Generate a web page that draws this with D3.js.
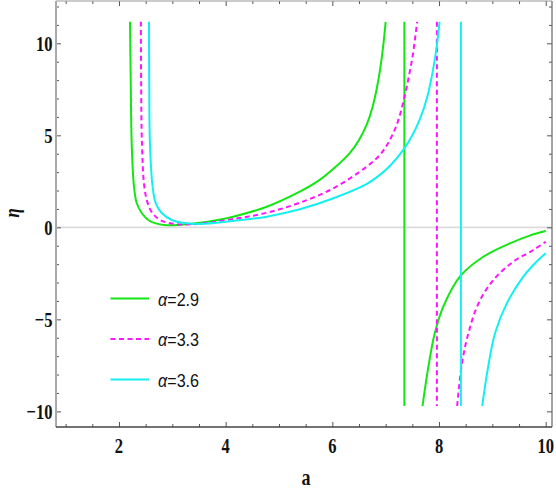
<!DOCTYPE html>
<html>
<head>
<meta charset="utf-8">
<script src="https://cdn.jsdelivr.net/npm/d3@7"></script>
<style>
  body { margin: 0; background: #fff; }
  svg { display: block; }
</style>
</head>
<body>
<svg id="chart" width="556" height="491"></svg>
<script>
// values: [a, eta]
const alphaValues = ['2.9', '3.3', '3.6'];

const green29Upper = [
  [2.206, 11.17], [2.22, 8.0], [2.238, 4.57], [2.281, 2.21], [2.332, 1.32], [2.426, 0.78],
  [2.549, 0.40], [2.707, 0.20], [2.9, 0.12], [3.1, 0.13], [3.52, 0.25], [4.14, 0.58],
  [4.77, 1.12], [5.39, 1.94], [5.75, 2.55], [6.02, 3.18], [6.33, 4.05], [6.5, 4.75],
  [6.64, 5.55], [6.75, 6.5], [6.85, 7.8], [6.93, 9.3], [7.0, 11.17],
];
const green29Lower = [
  [7.69, -9.71], [7.79, -7.76], [7.92, -5.76], [8.08, -4.31], [8.39, -2.68],
  [8.83, -1.60], [9.33, -0.87], [9.7, -0.45], [10.0, -0.20],
];

const magenta33Upper = [
  [2.41, 11.17], [2.415, 8.0], [2.43, 4.57], [2.475, 2.21], [2.54, 1.30], [2.63, 0.76],
  [2.77, 0.40], [2.96, 0.22], [3.2, 0.16], [3.52, 0.20], [4.14, 0.45], [4.77, 0.79],
  [5.39, 1.34], [6.02, 2.12], [6.64, 3.29], [6.89, 3.93], [7.05, 4.6], [7.21, 5.6],
  [7.33, 6.8], [7.42, 8.0], [7.51, 9.4], [7.59, 11.17],
];
const magenta33Lower = [
  [8.34, -9.71], [8.43, -7.39], [8.55, -5.76], [8.74, -4.13], [9.02, -2.86],
  [9.39, -1.87], [9.77, -1.23], [10.0, -0.78],
];

const cyan36Upper = [
  [2.5625, 11.17], [2.567, 8.0], [2.58, 4.57], [2.63, 2.21], [2.69, 1.30], [2.80, 0.78],
  [2.99, 0.40], [3.2, 0.25], [3.52, 0.18], [4.14, 0.35], [4.77, 0.58], [5.39, 0.98],
  [6.02, 1.58], [6.64, 2.35], [6.89, 2.85], [7.1, 3.4], [7.34, 4.25], [7.5, 5.0],
  [7.65, 5.95], [7.78, 7.1], [7.89, 8.6], [7.96, 9.9], [8.01, 11.17],
];
const cyan36Lower = [
  [8.81, -9.71], [8.91, -7.76], [9.05, -5.76], [9.27, -4.13], [9.58, -2.68],
  [9.8, -1.95], [10.0, -1.41],
];

// vertical jump lines and their extent
const asymptotes = [7.35, 7.96, 8.41];
const etaSpan = [-9.71, 11.17];

const xMajorTicks = [2, 4, 6, 8, 10];
const xTickLabels = ['2', '4', '6', '8', '10'];
const yMajorTicks = [-10, -5, 0, 5, 10];
const yTickLabels = ['\u221210', '\u22125', '0', '5', '10'];

const series = [
  { color: '#14e614', dash: null, upper: green29Upper, lower: green29Lower, asym: asymptotes[0] },
  { color: '#ff14ff', dash: '5,3.5', upper: magenta33Upper, lower: magenta33Lower, asym: asymptotes[1] },
  { color: '#14f0f0', dash: null, upper: cyan36Upper, lower: cyan36Lower, asym: asymptotes[2] },
];

const pLeft = 56, pRight = 552, pTop = 1, pBottom = 427;
const x = d3.scaleLinear().domain([0.819, 10.118]).range([pLeft, pRight]);
const y = d3.scaleLinear().domain([-10.85, 12.30]).range([pBottom, pTop]);

const svg = d3.select('#chart');

// zero line
svg.append('line')
  .attr('x1', pLeft).attr('x2', pRight)
  .attr('y1', y(0)).attr('y2', y(0))
  .attr('stroke', '#dcdcdc').attr('stroke-width', 1.6);

// ticks, all pointing inward
const xMinor = d3.range(1, 10.01, 0.5).filter((v) => !xMajorTicks.includes(v));
const yMinor = d3.range(-10, 12.01, 1).filter((v) => !yMajorTicks.includes(v));

function tickAxis(axisFn, scale, values, size, tr) {
  const g = svg.append('g')
    .attr('transform', tr)
    .call(axisFn(scale).tickValues(values).tickSizeInner(-size).tickSizeOuter(0).tickFormat(''));
  g.select('.domain').remove();
  g.selectAll('line').attr('stroke', '#555');
  return g;
}
tickAxis(d3.axisBottom, x, xMinor, 3, `translate(0,${pBottom})`);
tickAxis(d3.axisBottom, x, xMajorTicks, 5, `translate(0,${pBottom})`);
tickAxis(d3.axisTop, x, xMinor, 3, `translate(0,${pTop})`);
tickAxis(d3.axisTop, x, xMajorTicks, 5, `translate(0,${pTop})`);
tickAxis(d3.axisLeft, y, yMinor, 3, `translate(${pLeft},0)`);
tickAxis(d3.axisLeft, y, yMajorTicks, 5, `translate(${pLeft},0)`);
tickAxis(d3.axisRight, y, yMinor, 3, `translate(${pRight},0)`);
tickAxis(d3.axisRight, y, yMajorTicks, 5, `translate(${pRight},0)`);

// frame
svg.append('line').attr('x1', pLeft).attr('x2', pRight).attr('y1', pTop).attr('y2', pTop)
  .attr('stroke', '#999').attr('stroke-width', 1.2);
svg.append('line').attr('x1', pRight).attr('x2', pRight).attr('y1', pTop).attr('y2', pBottom)
  .attr('stroke', '#666').attr('stroke-width', 1.2);
svg.append('line').attr('x1', pLeft).attr('x2', pLeft).attr('y1', pTop).attr('y2', pBottom)
  .attr('stroke', '#aaa').attr('stroke-width', 2);
svg.append('line').attr('x1', pLeft).attr('x2', pRight).attr('y1', pBottom).attr('y2', pBottom)
  .attr('stroke', '#444').attr('stroke-width', 1.4);

// tick labels (squeezed serif, like the original)
const labelFont = '"Liberation Serif", "Times New Roman", serif';
svg.append('g').selectAll('text')
  .data(xMajorTicks)
  .join('text')
  .attr('transform', (d) => `translate(${x(d)},453) scale(0.75,1)`)
  .attr('text-anchor', 'middle')
  .attr('font-family', labelFont).attr('font-weight', 'bold').attr('font-size', 22)
  .attr('fill', '#111')
  .text((d, i) => xTickLabels[i]);

svg.append('g').selectAll('text')
  .data(yMajorTicks)
  .join('text')
  .attr('transform', (d) => `translate(52.5,${y(d) + 7.5}) scale(0.75,1)`)
  .attr('text-anchor', 'end')
  .attr('font-family', labelFont).attr('font-weight', 'bold').attr('font-size', 22)
  .attr('fill', '#111')
  .text((d, i) => yTickLabels[i]);

// axis titles
svg.append('text')
  .attr('transform', 'translate(306,485) scale(0.75,1)')
  .attr('text-anchor', 'middle')
  .attr('font-family', labelFont).attr('font-weight', 'bold').attr('font-size', 24)
  .attr('fill', '#111')
  .text('a');

svg.append('text')
  .attr('transform', 'translate(19,213) rotate(-90) scale(0.8,1)')
  .attr('text-anchor', 'middle')
  .attr('font-family', labelFont).attr('font-weight', 'bold').attr('font-style', 'italic')
  .attr('font-size', 21)
  .attr('fill', '#111')
  .text('\u03b7');

// curves
const line = d3.line()
  .x((d) => x(d[0]))
  .y((d) => y(d[1]))
  .curve(d3.curveCatmullRom.alpha(0.5));

series.forEach((s) => {
  const g = svg.append('g')
    .attr('fill', 'none')
    .attr('stroke', s.color)
    .attr('stroke-width', 2)
    .attr('stroke-dasharray', s.dash);
  g.append('path').attr('d', line(s.upper));
  g.append('path').attr('d', line(s.lower));
  g.append('line')
    .attr('x1', x(s.asym)).attr('x2', x(s.asym))
    .attr('y1', y(etaSpan[1])).attr('y2', y(etaSpan[0]));
});

// legend
const legend = svg.append('g');
series.forEach((s, i) => {
  const ly = 298.5 + i * 40.5;
  legend.append('line')
    .attr('x1', 110.5).attr('x2', 149)
    .attr('y1', ly).attr('y2', ly)
    .attr('stroke', s.color).attr('stroke-width', 2.2)
    .attr('stroke-dasharray', s.dash);
  const t = legend.append('text')
    .attr('transform', `translate(158,${ly + 7}) scale(0.85,1)`)
    .attr('font-family', '"Liberation Sans", Arial, sans-serif')
    .attr('font-size', 19)
    .attr('fill', '#111');
  t.append('tspan').attr('font-style', 'italic').text('\u03b1');
  t.append('tspan').text('=' + alphaValues[i]);
});
</script>
</body>
</html>
